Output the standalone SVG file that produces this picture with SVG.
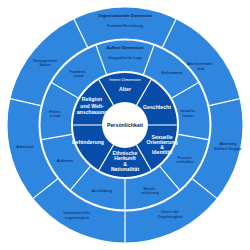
<svg xmlns="http://www.w3.org/2000/svg" width="250" height="250" viewBox="0 0 250 250">
<style>
text{font-family:"Liberation Sans",Arial,sans-serif;text-anchor:middle}
.o{font-size:4.1px;fill:#0b2352}
.h{font-size:4.2px;font-weight:bold;fill:#0b2352}
.w{font-size:5.2px;font-weight:bold;fill:#ffffff}
.ws{font-size:4px;fill:#ffffff}
.sep{stroke:#ffffff;stroke-width:1.2;fill:none}
</style>
<rect width="250" height="250" fill="#ffffff"/>
<g id="rings">
<circle cx="125" cy="125" r="117.5" fill="#2f86df"/>
<circle cx="125" cy="125" r="85.5" fill="none" stroke="#ffffff" stroke-width="2"/>
<circle cx="125" cy="125" r="53" fill="#084ea8" stroke="#ffffff" stroke-width="2"/>
<circle cx="125" cy="125" r="23" fill="#ffffff"/>
</g>
<g id="connectors" class="sep">
<path d="M87.5,47.1L73.8,18.7M162.5,47.1L176.2,18.7M209.3,105.7L240,98.7M192.6,179L217.2,198.6M125,211.5L125,243M57.4,179L32.8,198.6M40.7,105.7L10,98.7"/>
<path d="M106.5,74.3L96.1,45.6M143.5,74.3L153.9,45.6M171.8,98L198.2,82.75M178.2,134.4L208.2,139.7M159.7,166.4L179.3,189.7M125,179L125,209.5M90.3,166.4L70.7,189.7M71.8,134.4L41.8,139.7M78.2,98L51.8,82.75"/>
<path d="M113.5,105.1L99,80M136.5,105.1L151,80M148,125L177,125M136.5,144.9L151,170M113.5,144.9L99,170M102,125L73,125"/>
</g>
<g id="organisationale-dimension">
<text class="h" x="125" y="17.2">Organisationale Dimension</text>
<text class="o" x="125" y="27.2">Funktion/Einstufung</text>
<text class="o" x="200" y="64.8">Arbeitsinhalte/</text>
<text class="o" x="200" y="69.8">-feld</text>
<text class="o" x="228" y="144.5">Abteilung</text>
<text class="o" x="228" y="149.5">Einheit Gruppe</text>
<text class="o" x="170" y="213.2">Dauer der</text>
<text class="o" x="170" y="218.2">Zugehörigkeit</text>
<text class="o" x="77" y="214.2">Gewerkschafts-</text>
<text class="o" x="77" y="219.2">zugehörigkeit</text>
<text class="o" x="25" y="147.5">Arbeitsort</text>
<text class="o" x="45" y="61.5">Management</text>
<text class="o" x="45" y="66.3">Status</text>
</g>
<g id="aeussere-dimension">
<text class="h" x="125" y="49.2">Äußere Dimension</text>
<text class="o" x="125" y="58.8">Geografische Lage</text>
<text class="o" x="172" y="73.8">Einkommen</text>
<text class="o" x="188" y="111.5">Gewohn-</text>
<text class="o" x="188" y="116.5">heiten</text>
<text class="o" x="185" y="158.5">Freizeit-</text>
<text class="o" x="185" y="163">verhalten</text>
<text class="o" x="150" y="189.5">Berufs-</text>
<text class="o" x="150" y="194.3">erfahrung</text>
<text class="o" x="102" y="192.2">Ausbildung</text>
<text class="o" x="65" y="161.5">Auftreten</text>
<text class="o" x="55" y="112.5">Eltern-</text>
<text class="o" x="55" y="117.3">schaft</text>
<text class="o" x="78" y="72.5">Familien-</text>
<text class="o" x="78" y="77.3">stand</text>
</g>
<g id="innere-dimension">
<text class="ws" x="125" y="81.4">Innere Dimension</text>
<text class="w" x="125" y="91.3">Alter</text>
<text class="w" x="157" y="109.3">Geschlecht</text>
<text class="w" x="162" y="138.8">Sexuelle</text>
<text class="w" x="162" y="143.8">Orientierung</text>
<text class="w" x="162" y="148.8">&amp;</text>
<text class="w" x="162" y="153.8">Identität</text>
<text class="w" x="125" y="154.8">Ethnische</text>
<text class="w" x="125" y="160.3">Herkunft</text>
<text class="w" x="125" y="165.8">&amp;</text>
<text class="w" x="125" y="171.3">Nationalität</text>
<text class="w" x="88" y="143.8">Behinderung</text>
<text class="w" x="92" y="101.3">Religion</text>
<text class="w" x="92" y="107.8">und Welt-</text>
<text class="w" x="92" y="114.3">anschauung</text>
</g>
<g id="persoenlichkeit">
<text x="125" y="127.3" style="font-size:5.3px;font-weight:bold;fill:#0b1a33">Persönlichkeit</text>
</g>
</svg>
